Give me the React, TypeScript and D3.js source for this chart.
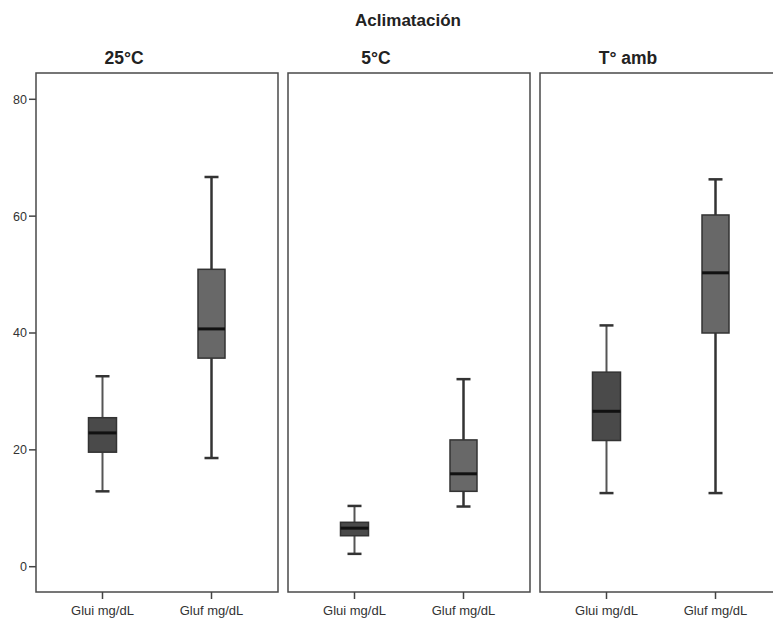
import * as d3 from 'd3';

// facets and variables
const panels = ['25°C', '5°C', 'T° amb'];
const variables = ['Glui mg/dL', 'Gluf mg/dL'];

// box stats per panel (25°C, 5°C, T° amb)
const gluiMin = [12.9, 2.2, 12.6];
const gluiQ1 = [19.6, 5.3, 21.6];
const gluiMedian = [22.9, 6.6, 26.6];
const gluiQ3 = [25.5, 7.6, 33.3];
const gluiMax = [32.6, 10.4, 41.3];

const glufMin = [18.6, 10.3, 12.6];
const glufQ1 = [35.7, 12.9, 40.0];
const glufMedian = [40.7, 15.9, 50.3];
const glufQ3 = [50.9, 21.7, 60.2];
const glufMax = [66.7, 32.1, 66.3];

const yTicks = [0, 20, 40, 60, 80];

const W = 773;
const H = 621;
const top = 73;
const bottom = 592;

const App = () => {
  const x = d3.scaleBand<string>()
    .domain(panels)
    .range([36, 782])
    .paddingInner(0.0397)
    .paddingOuter(0);

  const y = d3.scaleLinear().domain([-4.33, 84.5]).range([bottom, top]);

  const inner = d3.scalePoint<string>()
    .domain(variables)
    .range([0, x.bandwidth()])
    .padding(0.61);

  const stats = [
    { min: gluiMin, q1: gluiQ1, med: gluiMedian, q3: gluiQ3, max: gluiMax, fill: '#4a4a4a', wColor: '#555', wWidth: 2, boxW: 28 },
    { min: glufMin, q1: glufQ1, med: glufMedian, q3: glufQ3, max: glufMax, fill: '#686868', wColor: '#333', wWidth: 2.5, boxW: 27 },
  ];

  const font = 'Liberation Sans, Arial, sans-serif';

  return (
    <svg width={W} height={H} style={{ position: 'absolute', left: 0, top: 0, background: '#fff' }}>
      <text x={408} y={26} textAnchor="middle" fontFamily={font} fontWeight="bold" fontSize={17} fill="#222">
        Aclimatación
      </text>

      {/* y axis */}
      {yTicks.map(t => (
        <g key={t}>
          <line x1={29} x2={36} y1={y(t)} y2={y(t)} stroke="#444" strokeWidth={1.5} />
          <text x={27} y={y(t) + 4.5} textAnchor="end" fontFamily={font} fontSize={12.5} fill="#333">{t}</text>
        </g>
      ))}

      {panels.map((p, i) => {
        const left = x(p)!;
        return (
          <g key={p}>
            <text x={left + 88} y={64} textAnchor="middle" fontFamily={font} fontWeight="bold" fontSize={17.5} fill="#222">
              {p}
            </text>
            <rect x={left} y={top} width={x.bandwidth()} height={bottom - top} fill="none" stroke="#4a4a4a" strokeWidth={1.5} />
            {variables.map((v, j) => {
              const s = stats[j];
              const cx = left + inner(v)!;
              return (
                <g key={v}>
                  <line x1={cx} x2={cx} y1={bottom} y2={bottom + 7} stroke="#444" strokeWidth={1.5} />
                  <text x={cx} y={615} textAnchor="middle" fontFamily={font} fontSize={13} fill="#333">{v}</text>
                  <line x1={cx} x2={cx} y1={y(s.max[i])} y2={y(s.q3[i])} stroke={s.wColor} strokeWidth={s.wWidth} />
                  <line x1={cx} x2={cx} y1={y(s.q1[i])} y2={y(s.min[i])} stroke={s.wColor} strokeWidth={s.wWidth} />
                  <line x1={cx - 7} x2={cx + 7} y1={y(s.max[i])} y2={y(s.max[i])} stroke="#333" strokeWidth={2.5} />
                  <line x1={cx - 7} x2={cx + 7} y1={y(s.min[i])} y2={y(s.min[i])} stroke="#333" strokeWidth={2.5} />
                  <rect x={cx - s.boxW / 2} y={y(s.q3[i])} width={s.boxW} height={y(s.q1[i]) - y(s.q3[i])}
                    fill={s.fill} stroke="#333" strokeWidth={1.5} />
                  <line x1={cx - s.boxW / 2} x2={cx + s.boxW / 2} y1={y(s.med[i])} y2={y(s.med[i])} stroke="#111" strokeWidth={3} />
                </g>
              );
            })}
          </g>
        );
      })}
    </svg>
  );
};

export default App;
